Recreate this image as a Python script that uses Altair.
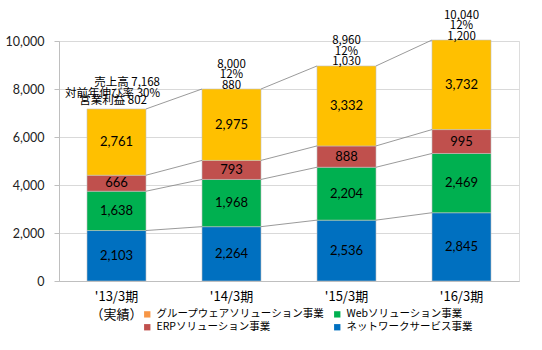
import altair as alt
import pandas as pd

periods = ["'13/3期", "'14/3期", "'15/3期", "'16/3期"]
network = [2103, 2264, 2536, 2845]
web = [1638, 1968, 2204, 2469]
erp = [666, 793, 888, 995]
groupware = [2761, 2975, 3332, 3732]
sales_total = [7168, 8000, 8960, 10040]
growth = [30, 12, 12, 12]
op_profit = [802, 880, 1030, 1200]

# stacking order (bottom to top) and bar colours
series_names = ["ネットワークサービス事業", "Webソリューション事業", "ERPソリューション事業", "グループウェアソリューション事業"]
series_vals = [network, web, erp, groupware]
bar_colors = ["#0070C0", "#00B050", "#C0504D", "#FFC000"]
# legend order (column-major: col1 = groupware, ERP; col2 = Web, network) and swatch colours
legend_order = ["グループウェアソリューション事業", "ERPソリューション事業", "Webソリューション事業", "ネットワークサービス事業"]
swatch_colors = ["#F79646", "#C0504D", "#00B050", "#0070C0"]

rows = []
cums = []
for i, p in enumerate(periods):
    lo = 0
    c = []
    for s, vals in zip(series_names, series_vals):
        hi = lo + vals[i]
        rows.append({"period": p, "series": s, "lo": lo, "hi": hi, "mid": (lo + hi) / 2, "label": f"{vals[i]:,}"})
        c.append(hi)
        lo = hi
    cums.append(c)
bars_df = pd.DataFrame(rows)

conn = []
for i in range(len(periods) - 1):
    for k in range(len(series_names)):
        conn.append({"p1": periods[i], "p2": periods[i + 1], "y1": cums[i][k], "y2": cums[i + 1][k]})
conn_df = pd.DataFrame(conn)

top_df = pd.DataFrame([
    {"period": periods[i], "top": cums[i][-1],
     "text": f"{sales_total[i]:,}\n{growth[i]}%\n{op_profit[i]:,}"}
    for i in range(1, len(periods))
])
first_df = pd.DataFrame([{"period": periods[0], "top": cums[0][-1],
                          "l12": f"売上高 {sales_total[0]:,}\n対前年伸び率 {growth[0]}%",
                          "l3": f"営業利益 {op_profit[0]:,}"}])

xscale = alt.Scale(domain=periods, paddingInner=0.487, paddingOuter=0.2435)
yscale = alt.Scale(domain=[0, 10000], nice=False)

x_enc = alt.X("period:N", scale=xscale, sort=periods, title=None,
              axis=alt.Axis(labelAngle=0, ticks=False, domainColor="#BFBFBF", bandPosition=0.5,
                            labelFont="Noto Sans CJK JP", labelFontSize=13, labelColor="#000000",
                            labelPadding=9, labelLineHeight=18,
                            labelExpr="datum.value == \"'13/3期\" ? [datum.value, '（実績）'] : datum.value"))

bars = alt.Chart(bars_df).mark_bar(stroke="#BFBFBF", strokeWidth=0.6).encode(
    x=x_enc,
    y=alt.Y("lo:Q", scale=yscale, title=None,
            axis=alt.Axis(values=[0, 2000, 4000, 6000, 8000, 10000], format=",d",
                          grid=True, gridColor="#D9D9D9", domainColor="#BFBFBF", tickColor="#BFBFBF",
                          tickSize=5, labelPadding=10, labelFont="Lato", labelFontSize=12.5,
                          labelColor="#222222")),
    y2="hi:Q",
    fill=alt.Fill("series:N", scale=alt.Scale(domain=series_names, range=bar_colors), legend=None),
)

legend_layer = alt.Chart(bars_df).mark_square().encode(
    x=alt.X("period:N", scale=xscale, sort=periods),
    y=alt.Y("mid:Q", scale=yscale),
    color=alt.Color("series:N", scale=alt.Scale(domain=legend_order, range=swatch_colors), title=None,
                    legend=alt.Legend(orient="none", legendX=83, legendY=268, columns=2,
                                      columnPadding=7, rowPadding=2, padding=0,
                                      symbolType="square", symbolSize=40, symbolStrokeWidth=0,
                                      symbolOpacity=1,
                                      labelFont="Noto Sans CJK JP", labelFontSize=10.5,
                                      labelColor="#000000", labelLimit=300)),
).transform_filter("false")

bar_text = alt.Chart(bars_df).mark_text(font="Lato", fontSize=13, color="#000000", baseline="middle").encode(
    x=alt.X("period:N", scale=xscale, sort=periods),
    y=alt.Y("mid:Q", scale=yscale),
    text="label:N",
)

connectors = alt.Chart(conn_df).mark_rule(color="#808080", strokeWidth=0.8).encode(
    x=alt.X("p1:N", scale=xscale, sort=periods, bandPosition=1),
    x2=alt.X2("p2:N", bandPosition=0),
    y=alt.Y("y1:Q", scale=yscale),
    y2="y2:Q",
)

top_text = alt.Chart(top_df).mark_text(font="Noto Sans CJK JP", fontSize=11.5, lineHeight=10.5,
                                       baseline="bottom", dy=-19.5, lineBreak="\n", color="#000000").encode(
    x=alt.X("period:N", scale=xscale, sort=periods),
    y=alt.Y("top:Q", scale=yscale),
    text="text:N",
)

first12 = alt.Chart(first_df).mark_text(font="Noto Sans CJK JP", fontSize=11.5, lineHeight=10.5,
                                        baseline="bottom", align="right", dy=-20.5, dx=14, lineBreak="\n",
                                        color="#000000").encode(
    x=alt.X("period:N", scale=xscale, sort=periods, bandPosition=1),
    y=alt.Y("top:Q", scale=yscale),
    text="l12:N",
)
first3 = alt.Chart(first_df).mark_text(font="Noto Sans CJK JP", fontSize=11.5,
                                       baseline="bottom", align="right", dy=-2.5, dx=1,
                                       color="#000000").encode(
    x=alt.X("period:N", scale=xscale, sort=periods, bandPosition=1),
    y=alt.Y("top:Q", scale=yscale),
    text="l3:N",
)

chart = alt.layer(bars, connectors, bar_text, top_text, first12, first3, legend_layer).properties(
    width=460, height=240,
    autosize=alt.AutoSizeParams(type="none"),
    padding={"left": 59, "top": 41, "right": 23, "bottom": 69},
).configure_view(stroke=None).configure(background="white")

chart.save("out.html", embed_options={"renderer": "svg", "actions": False})
